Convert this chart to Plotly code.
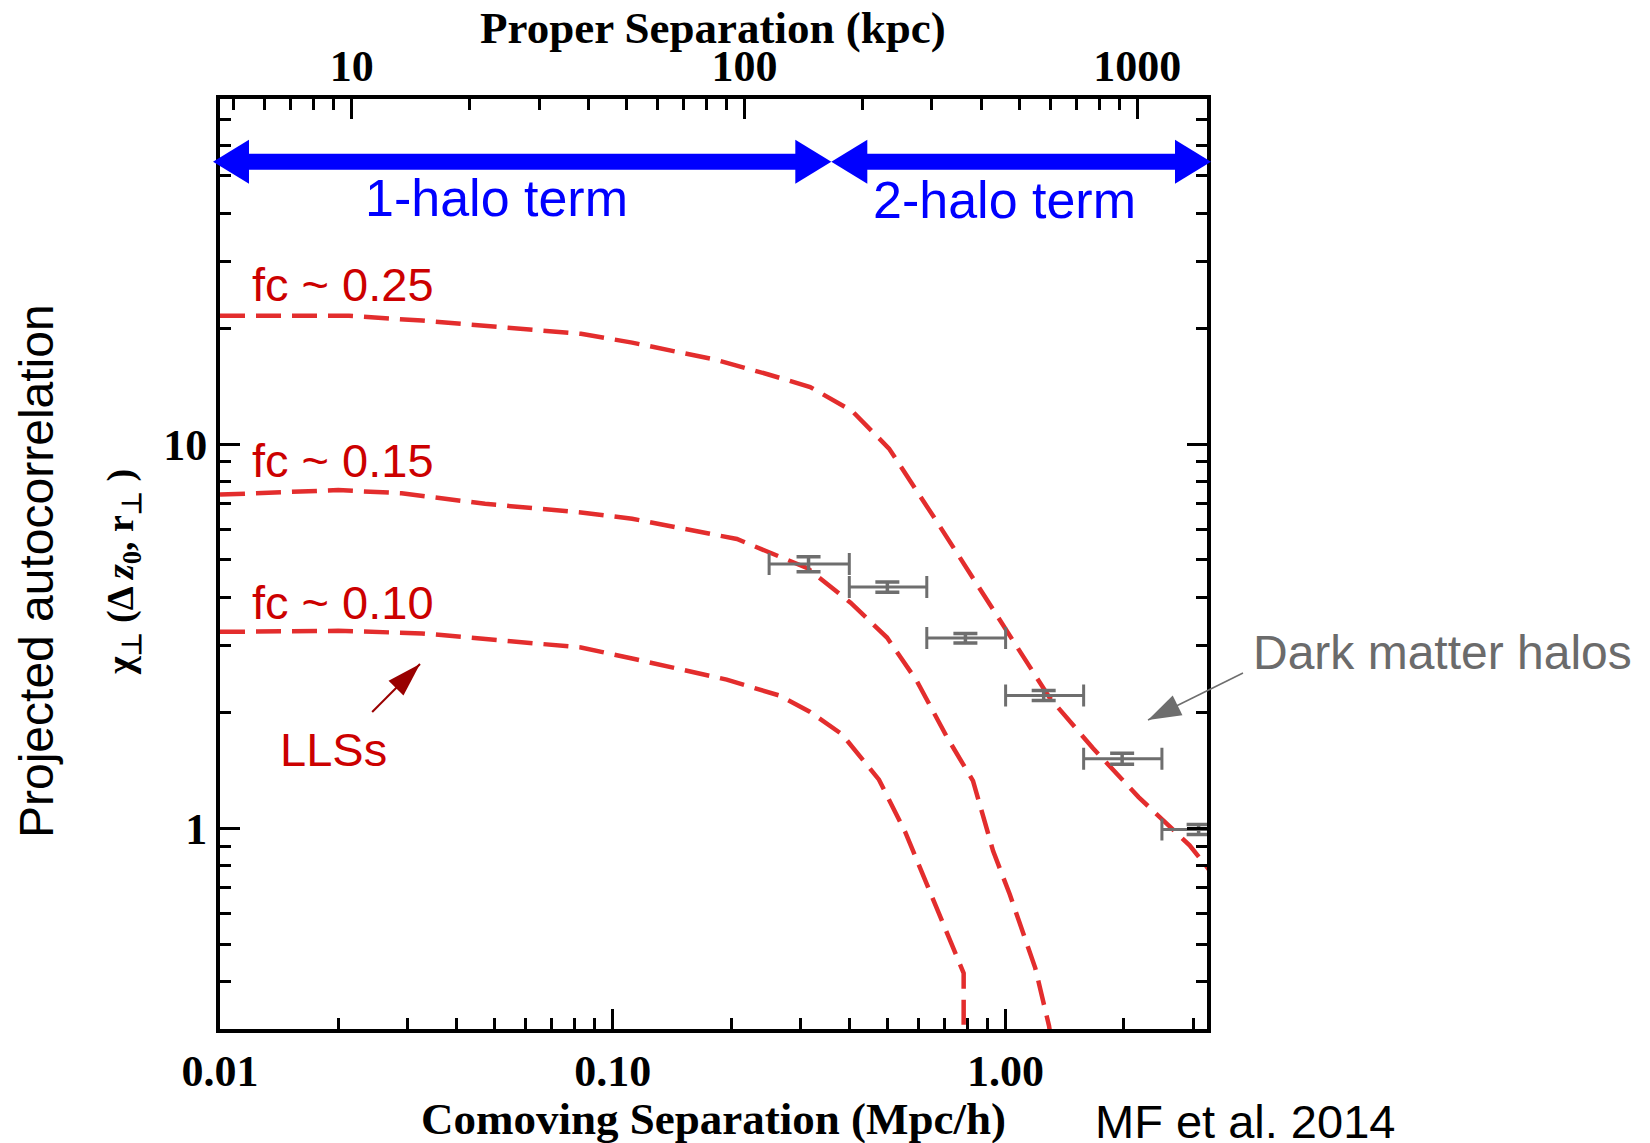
import math
import plotly.graph_objects as go

# ---------------- data ----------------
# dashed model curves: comoving separation (Mpc/h) vs projected autocorrelation
fc25_x = [0.01, 0.0213, 0.0327, 0.0473, 0.083, 0.112, 0.183, 0.249, 0.318, 0.407, 0.505, 0.667, 1.006, 1.294, 1.667, 2.18, 2.94, 3.3]
fc25_y = [21.6, 21.6, 21.0, 20.4, 19.4, 18.4, 16.6, 15.2, 14.1, 12.2, 9.75, 6.31, 3.26, 2.19, 1.62, 1.207, 0.904, 0.78]

fc15_x = [0.01, 0.0138, 0.020, 0.029, 0.0473, 0.083, 0.112, 0.207, 0.313, 0.403, 0.499, 0.593, 0.709, 0.826, 0.929, 1.025, 1.19, 1.29, 1.33]
fc15_y = [7.40, 7.50, 7.60, 7.46, 7.00, 6.65, 6.40, 5.67, 4.76, 3.87, 3.14, 2.43, 1.73, 1.33, 0.875, 0.673, 0.433, 0.306, 0.25]

fc10_x = [0.01, 0.02, 0.0327, 0.0473, 0.083, 0.112, 0.195, 0.265, 0.318, 0.383, 0.476, 0.555, 0.646, 0.754, 0.782, 0.782]
fc10_y = [3.25, 3.27, 3.22, 3.12, 2.96, 2.77, 2.44, 2.22, 2.01, 1.76, 1.34, 0.98, 0.673, 0.461, 0.42, 0.2]

curve_labels = ["fc ~ 0.25", "fc ~ 0.15", "fc ~ 0.10"]

# measured points (gray) with bin edges and y errors
pts_x = [0.315, 0.50, 0.79, 1.25, 1.98, 3.10]
pts_xlo = [0.25, 0.40, 0.63, 1.00, 1.58, 2.50]
pts_xhi = [0.40, 0.63, 1.00, 1.58, 2.50, 4.00]
pts_y = [4.88, 4.25, 3.13, 2.22, 1.52, 0.994]
pts_yerr = [0.22, 0.13, 0.09, 0.065, 0.05, 0.03]

# axes
x_ticks = [0.01, 0.1, 1.0]
x_ticktext = ["0.01", "0.10", "1.00"]
y_ticks = [1, 10]
y_ticktext = ["1", "10"]
top_ticks = [10, 100, 1000]
top_ticktext = ["10", "100", "1000"]
KPC_PER_MPCH = 462.0
X_LOG_RANGE = [-2.0, 0.5127]
Y_LOG_RANGE = [-0.522, 1.899]
HALO_BOUNDARY = 0.36       # Mpc/h, where 1-halo / 2-halo arrows meet
BLUE_ARROW_Y = 54.4        # data value of the blue arrows

# ---------------- layout geometry ----------------
FW, FH = 1650, 1143
L, R, T, B = 220, 1207, 99, 1029
PW, PH = R - L, B - T


def px_x(px):
    return (px - L) / PW


def px_y(py):
    return (B - py) / PH


def data_to_px_x(x):
    return L + (math.log10(x) - X_LOG_RANGE[0]) / (X_LOG_RANGE[1] - X_LOG_RANGE[0]) * PW


def data_to_px_y(y):
    return B - (math.log10(y) - Y_LOG_RANGE[0]) / (Y_LOG_RANGE[1] - Y_LOG_RANGE[0]) * PH


RED_LINE = "#e32d2d"
RED_TEXT = "#cc0000"
BLUE = "#0000ff"
GRAY = "#6e6e6e"
SERIF = "Liberation Serif"
SANS = "Liberation Sans"

fig = go.Figure()

for xs, ys in [(fc25_x, fc25_y), (fc15_x, fc15_y), (fc10_x, fc10_y)]:
    fig.add_trace(go.Scatter(x=xs, y=ys, mode="lines",
                             line=dict(color=RED_LINE, width=4.5, dash="25px,11px"),
                             showlegend=False, hoverinfo="skip"))

fig.add_trace(go.Scatter(
    x=pts_x, y=pts_y, mode="markers",
    marker=dict(size=1, color=GRAY),
    error_x=dict(type="data", symmetric=False,
                 array=[h - x for h, x in zip(pts_xhi, pts_x)],
                 arrayminus=[x - l for x, l in zip(pts_x, pts_xlo)],
                 color=GRAY, thickness=3, width=11),
    error_y=dict(type="data", array=pts_yerr, color=GRAY, thickness=3.5, width=12),
    showlegend=False, hoverinfo="skip"))

# invisible trace that activates the top (kpc) axis
fig.add_trace(go.Scatter(x=[10, 1000], y=[1, 1], xaxis="x2", mode="markers",
                         marker=dict(opacity=0), showlegend=False, hoverinfo="skip"))


def minor_vals(exps, lo, hi):
    vals = []
    for e in exps:
        for m in range(2, 10):
            v = m * 10.0 ** e
            if lo <= v <= hi:
                vals.append(v)
    return vals


tickfont = dict(family=SERIF, size=44, color="black", weight="bold")
xlo, xhi = 10 ** X_LOG_RANGE[0], 10 ** X_LOG_RANGE[1]
ylo, yhi = 10 ** Y_LOG_RANGE[0], 10 ** Y_LOG_RANGE[1]
klog = math.log10(KPC_PER_MPCH)

fig.update_layout(
    width=FW, height=FH,
    margin=dict(l=L, r=FW - R, t=T, b=FH - B),
    paper_bgcolor="white", plot_bgcolor="white",
    showlegend=False,
    xaxis=dict(type="log", range=X_LOG_RANGE, showgrid=False, zeroline=False,
               showline=True, linecolor="black", linewidth=4, mirror=True,
               ticks="inside", ticklen=20, tickwidth=3, tickcolor="black",
               tickmode="array", tickvals=x_ticks, ticktext=x_ticktext,
               tickfont=tickfont, ticklabelstandoff=0,
               minor=dict(ticks="inside", ticklen=11, tickwidth=3, tickcolor="black",
                          tickmode="array", tickvals=minor_vals([-2, -1, 0], xlo, xhi))),
    xaxis2=dict(type="log", overlaying="x", side="top", anchor="y",
                range=[X_LOG_RANGE[0] + klog, X_LOG_RANGE[1] + klog],
                showgrid=False, zeroline=False, showline=False,
                ticks="inside", ticklen=20, tickwidth=3, tickcolor="black",
                tickmode="array", tickvals=top_ticks, ticktext=top_ticktext,
                tickfont=tickfont, ticklabelstandoff=8,
                minor=dict(ticks="inside", ticklen=11, tickwidth=3, tickcolor="black",
                           tickmode="array",
                           tickvals=minor_vals([0, 1, 2, 3], xlo * KPC_PER_MPCH, xhi * KPC_PER_MPCH))),
    yaxis=dict(type="log", range=Y_LOG_RANGE, showgrid=False, zeroline=False,
               showline=True, linecolor="black", linewidth=4, mirror="ticks",
               ticks="inside", ticklen=20, tickwidth=3, tickcolor="black",
               tickmode="array", tickvals=y_ticks, ticktext=y_ticktext,
               tickfont=tickfont, ticklabelstandoff=0,
               minor=dict(ticks="inside", ticklen=11, tickwidth=3, tickcolor="black",
                          tickmode="array", tickvals=minor_vals([-1, 0, 1], ylo, yhi))),
)


def head_path(length, width, angle_deg):
    a = math.radians(angle_deg)
    bx, by = -length * math.cos(a), -length * math.sin(a)
    nx, ny = -math.sin(a) * width / 2, math.cos(a) * width / 2
    return "M0,0 L{:.2f},{:.2f} L{:.2f},{:.2f} Z".format(bx + nx, by + ny, bx - nx, by - ny)


def add_head(xa, ya, angle, length, width, color, xref="paper", yref="paper"):
    fig.add_shape(type="path", xref=xref, yref=yref, xsizemode="pixel", ysizemode="pixel",
                  xanchor=xa, yanchor=ya, path=head_path(length, width, angle),
                  fillcolor=color, line=dict(color=color, width=0), layer="above")


# blue double arrows (paper coordinates derived from data positions)
ya_px = data_to_px_y(BLUE_ARROW_Y)
yb = px_y(ya_px)
left_tip = L - 7
mid_tip = data_to_px_x(HALO_BOUNDARY)
right_tip = R + 4
HL, HW, SW = 36, 44, 16
for a, b in [(left_tip, mid_tip), (mid_tip, right_tip)]:
    fig.add_shape(type="line", xref="paper", yref="paper",
                  x0=px_x(a + HL - 6), x1=px_x(b - HL + 6), y0=yb, y1=yb,
                  line=dict(color=BLUE, width=SW), layer="above")
    add_head(px_x(a), yb, 180, HL, HW, BLUE)
    add_head(px_x(b), yb, 0, HL, HW, BLUE)

# LLS arrow (dark red)
lls_start = (0.0244, 2.01)
lls_tip = (0.0323, 2.68)
sx, sy = data_to_px_x(lls_start[0]), data_to_px_y(lls_start[1])
tx, ty = data_to_px_x(lls_tip[0]), data_to_px_y(lls_tip[1])
ang = math.degrees(math.atan2(-(ty - sy), tx - sx))
fig.add_shape(type="line", xref="paper", yref="paper",
              x0=px_x(sx), y0=px_y(sy), x1=px_x(tx), y1=px_y(ty),
              line=dict(color="#990000", width=2), layer="above")
add_head(px_x(tx), px_y(ty), ang, 34, 21, "#990000")

# Dark matter halos arrow (gray)
gs = (1243, 673)
gt = (1148, 720)
ang = math.degrees(math.atan2(-(gt[1] - gs[1]), gt[0] - gs[0]))
fig.add_shape(type="line", xref="paper", yref="paper",
              x0=px_x(gs[0]), y0=px_y(gs[1]), x1=px_x(gt[0]), y1=px_y(gt[1]),
              line=dict(color=GRAY, width=1.5), layer="above")
add_head(px_x(gt[0]), px_y(gt[1]), ang, 33, 22, GRAY)


def ann(text, x, y, size, color, family=SANS, xanchor="center", angle=0, weight="normal"):
    fig.add_annotation(text=text, xref="paper", yref="paper", x=px_x(x), y=px_y(y),
                       xanchor=xanchor, yanchor="middle", showarrow=False, textangle=angle,
                       font=dict(family=family, size=size, color=color, weight=weight))


ann("1-halo term", 496, 198, 52, BLUE)
ann("2-halo term", 1004, 200, 52, BLUE)
for lab, yy in zip(curve_labels, [284, 460, 602]):
    ann(lab, 250, yy, 47, RED_TEXT, xanchor="left")
ann("LLSs", 278, 749, 47, RED_TEXT, xanchor="left")
ann("Dark matter halos", 1251, 652, 48, "#6b6b6b", xanchor="left")
ann("MF et al. 2014", 1093, 1121, 47, "black", xanchor="left")
ann("Projected autocorrelation", 36, 571, 48, "black", angle=-90)
ann("χ<sub>⊥</sub> (Δ <i>z</i><sub>0</sub>, r<sub>⊥</sub> )", 123, 572, 38, "black",
    family=SERIF, angle=-90, weight="bold")
ann("Comoving Separation (Mpc/h)", 713, 1119, 45, "black", family=SERIF, weight="bold")
ann("Proper Separation (kpc)", 713, 28, 45, "black", family=SERIF, weight="bold")

fig.write_html("out.html")
